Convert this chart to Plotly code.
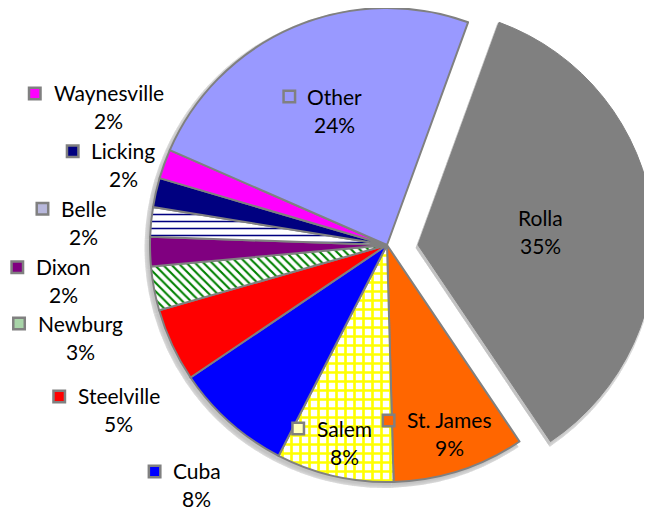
import glob
import math
import struct
import plotly.graph_objects as go

# ---------------- data ----------------
names = ["Rolla", "St. James", "Salem", "Cuba", "Steelville", "Newburg",
         "Dixon", "Belle", "Licking", "Waynesville", "Other"]
shares = [35, 9, 8, 8, 5, 3, 2, 2, 2, 2, 24]
exploded = "Rolla"

# ---------------- styles ----------------
fill_colors = ["#808080", "#FF6600", "#FFFF00", "#0000FF", "#FF0000", "#008000",
               "#800080", "#000080", "#000080", "#FF00FF", "#9999FF"]
pattern_shapes = ["", "", "+", "", "", "\\", "", "-", "", "", ""]
pattern_sizes = [8, 8, 9, 8, 8, 6, 8, 7, 8, 8, 8]
pattern_solid = [0.3, 0.3, 0.5, 0.3, 0.3, 0.35, 0.3, 0.22, 0.3, 0.3, 0.3]
key_colors = ["#808080", "#FF6600", "#FFFFC0", "#0000FF", "#FF0000", "#A8D4A8",
              "#800080", "#B8B8DC", "#000080", "#FF00FF", "#9999FF"]
# label placement: angular nudge (deg) from slice middle, distance in radii
label_nudge = [0.7, -0.6, -0.5, -3.2, -6.6, -6.1, -4.7, -1.3, 4.1, 6.4, 2.1]
label_dist = [0.522, 0.84, 0.851, 1.292, 1.328, 1.352, 1.375, 1.284, 1.164, 1.31, 0.61]

W, H = 652, 514
OFF = 8                      # page body margin (screen = figure + OFF)
CX, CY, R = 387.0, 245.0, 237.0   # screen pixels
RCX, RCY = 418.0, 245.0           # centre of the pulled-out slice
ROTATION = 20
LINE_GRAY = "#808080"
FONT = "Lato"
FS = 21
LINE_GAP = 28


# ------------- text width from the installed font -------------
def load_font(patterns):
    for pat in patterns:
        for path in sorted(glob.glob(pat, recursive=True)):
            try:
                data = open(path, "rb").read()
                nt = struct.unpack(">H", data[4:6])[0]
                tabs = {}
                for i in range(nt):
                    tag, _, off, ln = struct.unpack(">4sIII", data[12 + 16 * i:28 + 16 * i])
                    tabs[tag.decode("latin1")] = off
                head, hhea, hmtx, cmap = tabs["head"], tabs["hhea"], tabs["hmtx"], tabs["cmap"]
                upem = struct.unpack(">H", data[head + 18:head + 20])[0]
                nhm = struct.unpack(">H", data[hhea + 34:hhea + 36])[0]
                adv = [struct.unpack(">H", data[hmtx + 4 * i:hmtx + 4 * i + 2])[0] for i in range(nhm)]
                n = struct.unpack(">H", data[cmap + 2:cmap + 4])[0]
                sub = None
                for i in range(n):
                    pid, eid, off = struct.unpack(">HHI", data[cmap + 4 + 8 * i:cmap + 12 + 8 * i])
                    if struct.unpack(">H", data[cmap + off:cmap + off + 2])[0] == 4:
                        sub = cmap + off
                        break
                if sub is None:
                    continue
                sx2 = struct.unpack(">H", data[sub + 6:sub + 8])[0]
                seg = sx2 // 2
                ends = struct.unpack(">%dH" % seg, data[sub + 14:sub + 14 + sx2])
                starts = struct.unpack(">%dH" % seg, data[sub + 16 + sx2:sub + 16 + 2 * sx2])
                deltas = struct.unpack(">%dh" % seg, data[sub + 16 + 2 * sx2:sub + 16 + 3 * sx2])
                rpos = sub + 16 + 3 * sx2
                roffs = struct.unpack(">%dH" % seg, data[rpos:rpos + sx2])

                def gid(ch):
                    c = ord(ch)
                    for i in range(seg):
                        if starts[i] <= c <= ends[i]:
                            if roffs[i] == 0:
                                return (c + deltas[i]) & 0xFFFF
                            a = rpos + 2 * i + roffs[i] + 2 * (c - starts[i])
                            g = struct.unpack(">H", data[a:a + 2])[0]
                            return (g + deltas[i]) & 0xFFFF if g else 0
                    return 0

                def width(s, size):
                    return sum(adv[min(gid(ch), nhm - 1)] for ch in s) / upem * size
                return width
            except Exception:
                continue
    return lambda s, size: 0.5 * size * len(s)


text_width = load_font(["/usr/share/fonts/**/Lato-Regular.ttf",
                        "/usr/share/fonts/**/Lato*Regular*.ttf",
                        "/usr/local/share/fonts/**/Lato-Regular.ttf"])


def px2x(px):
    return (px - OFF) / W


def py2y(py):
    return 1 - (py - OFF) / H


def domain(cx, cy, h):
    # square domain centred on (cx, cy) (screen px), shrunk to fit the figure
    h = min(h, cx - OFF, W + OFF - cx, cy - OFF, H + OFF - cy)
    return dict(x=[px2x(cx - h), px2x(cx + h)], y=[py2y(cy + h), py2y(cy - h)])


total = sum(shares)
clear = "rgba(0,0,0,0)"
fig = go.Figure()

# soft shadow (offset down-left)
SHX, SHY = -2.5, 3.0
for k in range(7, -1, -1):
    a = 0.03
    col_main = [clear if n == exploded else "rgba(0,0,0,%g)" % a for n in names]
    col_ex = ["rgba(0,0,0,%g)" % a if n == exploded else clear for n in names]
    for cols, (bx, by) in ((col_main, (CX, CY)), (col_ex, (RCX, RCY))):
        fig.add_trace(go.Pie(
            labels=names, values=shares, sort=False, direction="clockwise",
            rotation=ROTATION, textinfo="none", hoverinfo="skip", showlegend=False,
            marker=dict(colors=cols, line=dict(width=0)),
            domain=domain(bx + SHX, by + SHY, R + k)))

pattern = dict(shape=pattern_shapes, fgcolor=fill_colors,
               bgcolor=["white"] * len(names), size=pattern_sizes,
               solidity=pattern_solid, fillmode="replace")

# main pie (exploded slice hidden here)
fig.add_trace(go.Pie(
    labels=names, values=shares, sort=False, direction="clockwise",
    rotation=ROTATION, textinfo="none", showlegend=False,
    marker=dict(colors=[clear if n == exploded else c for n, c in zip(names, fill_colors)],
                line=dict(color=LINE_GRAY, width=[0 if n == exploded else 2 for n in names]),
                pattern=pattern),
    domain=domain(CX, CY, R)))

# exploded slice
fig.add_trace(go.Pie(
    labels=names, values=shares, sort=False, direction="clockwise",
    rotation=ROTATION, textinfo="none", showlegend=False,
    marker=dict(colors=[c if n == exploded else clear for n, c in zip(names, fill_colors)],
                line=dict(color=LINE_GRAY, width=[1 if n == exploded else 0 for n in names])),
    domain=domain(RCX, RCY, R)))

# labels with legend keys
annotations, shapes = [], []
acc = 0
for i, (n, v) in enumerate(zip(names, shares)):
    mid = ROTATION + (acc + v / 2) / total * 360
    acc += v
    th = math.radians(mid + label_nudge[i])
    bx, by = (RCX, RCY) if n == exploded else (CX, CY)
    lx = bx + label_dist[i] * R * math.sin(th)
    ly = by - label_dist[i] * R * math.cos(th)
    pct = "%d%%" % round(100 * v / total)
    for txt, yy in ((n, ly - LINE_GAP / 2), (pct, ly + LINE_GAP / 2)):
        annotations.append(dict(x=px2x(lx), y=py2y(yy), xref="paper", yref="paper",
                                text=txt, showarrow=False, xanchor="center",
                                yanchor="middle",
                                font=dict(family=FONT, size=FS, color="black")))
    nw = text_width(n, FS)
    x1 = lx - nw / 2 - 12.5
    x0 = x1 - 11.5
    yc = ly - LINE_GAP / 2 + 0.5
    shapes.append(dict(type="rect", xref="paper", yref="paper",
                       x0=px2x(x0), x1=px2x(x1), y0=py2y(yc + 5.75), y1=py2y(yc - 5.75),
                       fillcolor=key_colors[i], line=dict(color=LINE_GRAY, width=2.5)))

fig.update_layout(width=W, height=H, margin=dict(l=0, r=0, t=0, b=0),
                  paper_bgcolor="white", plot_bgcolor="white", showlegend=False,
                  annotations=annotations, shapes=shapes)

fig.write_html("out.html")
